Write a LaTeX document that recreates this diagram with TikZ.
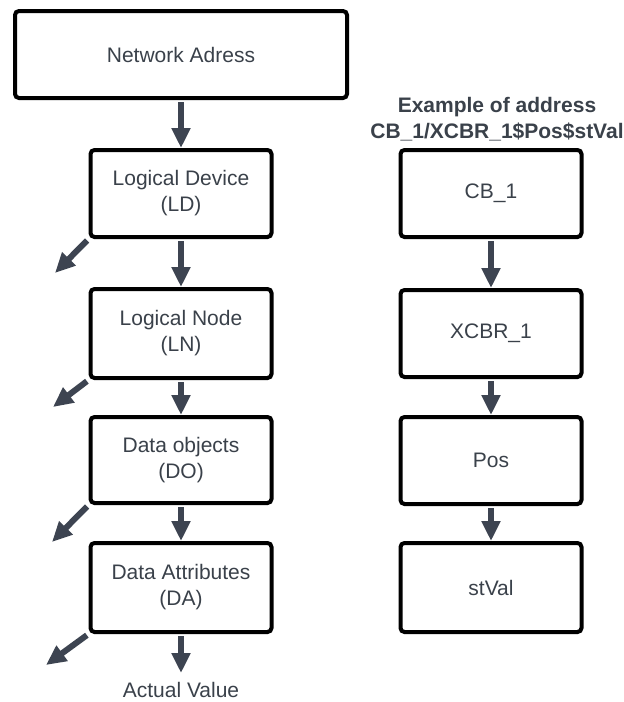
\documentclass[tikz,border=0pt]{standalone}
\usepackage{fontspec}
\setmainfont{Liberation Sans}
\usetikzlibrary{arrows.meta}
\definecolor{txt}{HTML}{3A414A}
\definecolor{arr}{HTML}{3D4451}
\begin{document}
\begin{tikzpicture}[x=1pt,y=-1pt,
  box/.style={draw=black, line width=4pt, rounded corners=4pt, fill=white, text=txt,
    align=center, font=\fontsize{21}{26}\selectfont, inner sep=0pt},
  lbox/.style={box, minimum width=181pt, minimum height=87pt},
  arw/.style={draw=arr, line width=6pt, -{Triangle[width=18pt,length=20pt]}, shorten <=2pt},
  lbl/.style={text=txt, font=\fontsize{21}{26}\selectfont, align=center, inner sep=0pt}
]
\useasboundingbox (0,0) rectangle (624,702);
% left column
\node[box, minimum width=332pt, minimum height=87pt] (net) at (181,54.5) {Network Adress};
\node[lbox] (ld) at (181,193.5) {Logical Device\\(LD)};
\node[lbox, minimum height=89pt] (ln) at (181,333.5) {Logical Node\\(LN)};
\node[lbox, minimum height=86pt] (do) at (181,460) {Data objects\\(DO)};
\node[lbox, minimum height=89pt] (da) at (181,587.5) {Data Attributes\\(DA)};
\node[lbl, anchor=base] (actual) at (181,697) {Actual Value};
\coordinate (av) at (181,673);
\coordinate (l1) at (55,273);
\coordinate (l2) at (53,407);
\coordinate (l3) at (52,542);
\coordinate (l4) at (46,665);
% right column
\node[lbl, font=\fontsize{21}{26}\selectfont\bfseries] (head) at (497,119) {Example of address\\CB\_1/XCBR\_1\$Pos\$stVal};
\node[lbox] (cb) at (491,193.5) {CB\_1};
\node[lbox] (xcbr) at (491,333.5) {XCBR\_1};
\node[lbox] (pos) at (491,460.5) {Pos};
\node[lbox, minimum height=89pt] (st) at (491,587.5) {stVal};
% connectors
\draw[arw] (net.south) -- (ld.north);
\draw[arw] (ld.south) -- (ln.north);
\draw[arw] (ln.south) -- (do.north);
\draw[arw] (do.south) -- (da.north);
\draw[arw] (da.south) -- (av);
\draw[arw] (ld.south west) -- (l1);
\draw[arw] (ln.south west) -- (l2);
\draw[arw] (do.south west) -- (l3);
\draw[arw] (da.south west) -- (l4);
\draw[arw] (cb.south) -- (xcbr.north);
\draw[arw] (xcbr.south) -- (pos.north);
\draw[arw] (pos.south) -- (st.north);
\end{tikzpicture}
\end{document}
